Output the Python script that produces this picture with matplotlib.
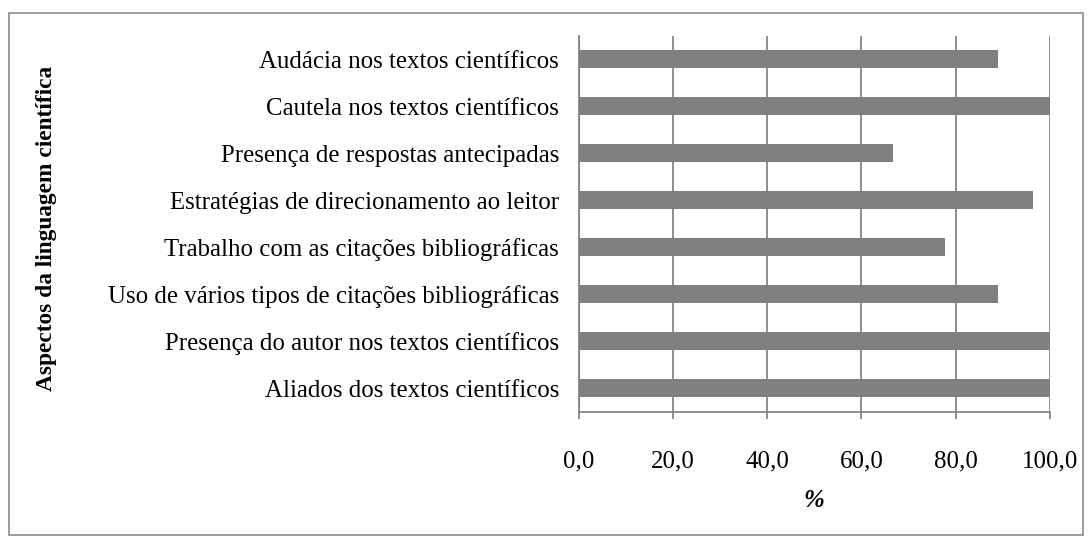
import matplotlib.pyplot as plt
from matplotlib.patches import Rectangle

categorias = [
    "Aliados dos textos científicos",
    "Presença do autor nos textos científicos",
    "Uso de vários tipos de citações bibliográficas",
    "Trabalho com as citações bibliográficas",
    "Estratégias de direcionamento ao leitor",
    "Presença de respostas antecipadas",
    "Cautela nos textos científicos",
    "Audácia nos textos científicos",
]
valores = [100.0, 100.0, 88.9, 77.8, 96.3, 66.7, 100.0, 88.9]
ticks_x = [0, 20, 40, 60, 80, 100]
ticks_lbl = ["0,0", "20,0", "40,0", "60,0", "80,0", "100,0"]

plt.rcParams['font.family'] = ['Liberation Serif', 'DejaVu Serif']

W, H = 1090, 541
fig = plt.figure(figsize=(W / 100, H / 100), dpi=100)
ax = fig.add_axes([578.5 / W, 1 - 411.7 / H, (1050 - 578.5) / W, (411.7 - 35.7) / H])

# moldura do grafico
fig.patches.append(Rectangle((9 / W, 1 - 535 / H), (1083 - 9) / W, (535 - 13) / H,
                             transform=fig.transFigure, fill=False,
                             edgecolor='#8c8c8c', linewidth=1.2))

y = range(len(categorias))
ax.barh(y, valores, height=0.38, color='#808080', zorder=3)
ax.set_ylim(-0.5, len(categorias) - 0.5)
ax.set_xlim(0, 100)
ax.set_yticks(list(y))
ax.set_yticklabels(categorias, fontsize=17.9)
ax.set_xticks(ticks_x)
ax.set_xticklabels(ticks_lbl, fontsize=17.9)

ax.grid(axis='x', color='#868686', linewidth=1.3, zorder=0)
for s in ['top', 'right']:
    ax.spines[s].set_visible(False)
for s in ['left', 'bottom']:
    ax.spines[s].set_color('#868686')
    ax.spines[s].set_linewidth(1.3)
ax.tick_params(axis='y', length=0, pad=14)
ax.tick_params(axis='x', length=5, width=1.3, color='#868686', pad=23)

ax.set_xlabel('%', fontsize=18, fontweight='bold', style='italic', labelpad=12)
fig.text(47 / W, 1 - 228 / H, 'Aspectos da linguagem científica', rotation=90,
         ha='center', va='center', fontsize=16.8, fontweight='bold')

fig.savefig('out.png', dpi=100)
